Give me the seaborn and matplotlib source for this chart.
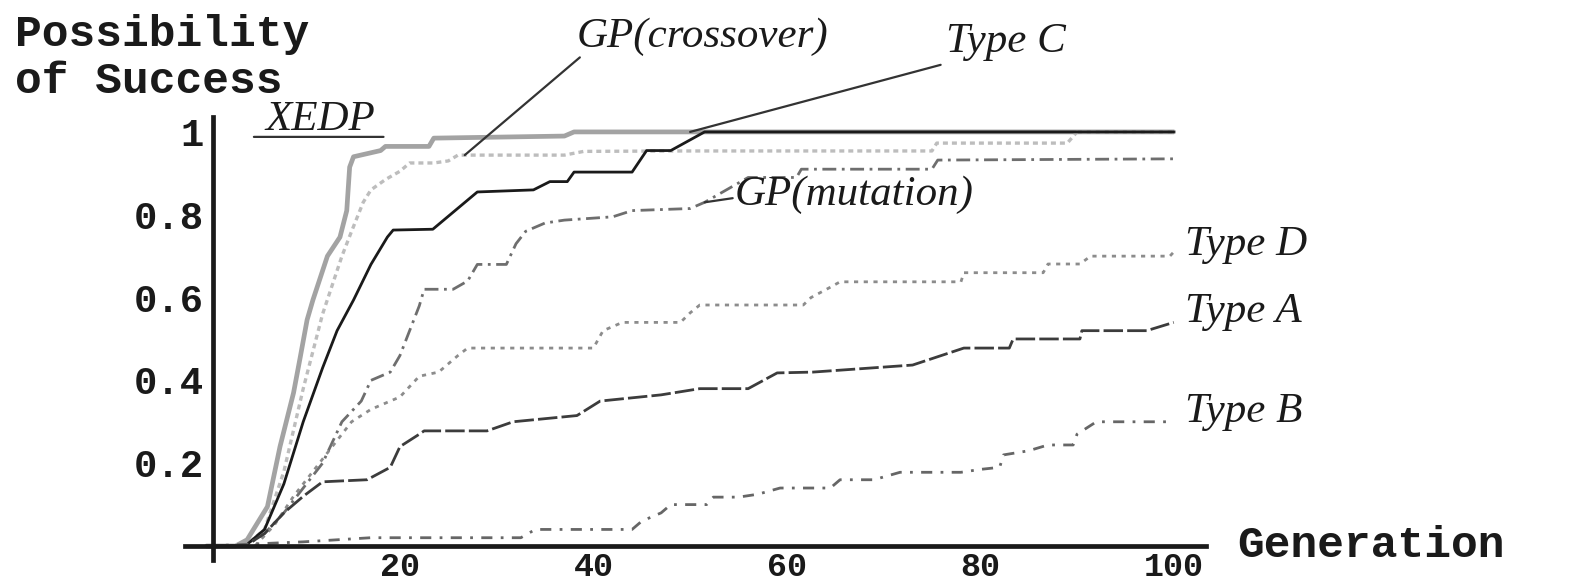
import matplotlib
matplotlib.use("Agg")
import matplotlib.pyplot as plt
import pandas as pd
import seaborn as sns

# values: generation -> possibility of success
xedp_gen = [0, 3, 4.2, 6.3, 7.6, 9, 9.7, 10.4, 11, 12.5, 13.8, 14.5, 14.8, 15.2,
            18, 18.5, 23, 23.5, 37, 38, 100]
xedp_val = [0, 0, 0.015, 0.095, 0.24, 0.37, 0.457, 0.546, 0.594, 0.70, 0.746, 0.81,
            0.915, 0.94, 0.955, 0.965, 0.965, 0.985, 0.99, 1.0, 1.0]

cross_gen = [0, 4, 6, 8, 10, 12, 14, 15, 16.2, 17, 18.5, 20, 21, 23.5, 25, 26, 37,
             39, 49, 75, 75.5, 89, 90, 100]
cross_val = [0, 0, 0.04, 0.18, 0.38, 0.56, 0.70, 0.76, 0.83, 0.86, 0.885, 0.905,
             0.925, 0.925, 0.93, 0.944, 0.944, 0.953, 0.954, 0.954, 0.973, 0.973,
             1.0, 1.0]

typec_gen = [0, 4, 6, 8, 10, 12, 13.5, 15.2, 17, 18.7, 19.3, 23.4, 28, 33.8, 35.5,
             37.3, 38, 44, 45.5, 48, 51.5, 100]
typec_val = [0, 0, 0.04, 0.15, 0.3, 0.43, 0.52, 0.594, 0.68, 0.746, 0.763, 0.765,
             0.855, 0.86, 0.88, 0.88, 0.903, 0.903, 0.955, 0.955, 1.0, 1.0]

mut_gen = [0, 4, 6, 8, 10, 12, 14, 16, 17, 19, 20, 21, 22, 22.5, 25.5, 27, 28, 31,
           32, 33, 35, 37, 42, 44, 50, 51.5, 56, 61, 61.5, 75, 75.6, 100]
mut_val = [0, 0, 0.03, 0.08, 0.14, 0.2, 0.3, 0.35, 0.4, 0.42, 0.46, 0.52, 0.58,
           0.62, 0.62, 0.64, 0.68, 0.68, 0.73, 0.76, 0.78, 0.787, 0.795, 0.81,
           0.815, 0.83, 0.89, 0.89, 0.91, 0.91, 0.932, 0.935]

typed_gen = [0, 5, 7, 9, 11, 13, 15, 17, 20, 22, 24, 26, 27, 40, 41, 43, 49, 50,
             51, 61.7, 62.5, 64.5, 65.5, 78, 78.3, 86.5, 87, 90.3, 91.4, 99.6, 100]
typed_val = [0, 0, 0.05, 0.12, 0.18, 0.24, 0.3, 0.33, 0.36, 0.41, 0.42, 0.46, 0.478,
             0.478, 0.52, 0.54, 0.54, 0.563, 0.582, 0.582, 0.6, 0.625, 0.638, 0.638,
             0.66, 0.66, 0.681, 0.681, 0.7, 0.7, 0.71]

typea_gen = [0, 4, 6, 8, 10, 12, 16.6, 19, 20, 22, 22.5, 29, 31.7, 38.3, 40.7, 47,
             51, 56, 59, 62.7, 73, 78.3, 83, 83.4, 90.3, 90.5, 97.2, 100]
typea_val = [0, 0, 0.03, 0.08, 0.12, 0.155, 0.16, 0.19, 0.24, 0.27, 0.278, 0.278,
             0.30, 0.315, 0.35, 0.365, 0.38, 0.38, 0.418, 0.42, 0.437, 0.478, 0.478,
             0.5, 0.5, 0.52, 0.52, 0.54]

typeb_gen = [0, 10, 17, 32.5, 34, 44, 45, 47, 48, 51.7, 52.4, 55, 57, 59.3, 64.5,
             65.5, 69, 71.7, 78, 80, 82, 82.4, 85, 87, 89.6, 90, 92, 100]
typeb_val = [0, 0.01, 0.02, 0.02, 0.04, 0.04, 0.06, 0.08, 0.1, 0.1, 0.118, 0.118,
             0.125, 0.14, 0.14, 0.16, 0.16, 0.178, 0.178, 0.185, 0.19, 0.22, 0.23,
             0.244, 0.244, 0.27, 0.3, 0.3]

series = {
    "XEDP": (xedp_gen, xedp_val),
    "GP(crossover)": (cross_gen, cross_val),
    "Type C": (typec_gen, typec_val),
    "GP(mutation)": (mut_gen, mut_val),
    "Type D": (typed_gen, typed_val),
    "Type A": (typea_gen, typea_val),
    "Type B": (typeb_gen, typeb_val),
}

# colour, width, dash pattern
styles = {
    "XEDP": ("#a3a3a3", 3.4, "-"),
    "GP(crossover)": ("#bdbdbd", 2.4, (0, (1.5, 1.2))),
    "Type C": ("#1a1a1a", 2.0, "-"),
    "GP(mutation)": ("#6e6e6e", 2.0, (0, (5, 2, 1, 2))),
    "Type D": ("#8c8c8c", 2.0, (0, (1.5, 2))),
    "Type A": ("#3c3c3c", 2.0, (0, (7, 1.5))),
    "Type B": ("#666666", 2.0, (0, (4, 3, 1, 3))),
}

rows = []
for name, (gen, val) in series.items():
    for g, v in zip(gen, val):
        rows.append({"series": name, "Generation": g, "Success": v})
df = pd.DataFrame(rows)

sns.set_theme(style="white")
plt.rcParams["font.family"] = ["Liberation Mono", "DejaVu Sans Mono"]

fig = plt.figure(figsize=(15.75, 5.81), dpi=100)
ax = fig.add_axes([0.1176, 0.0353, 0.6479, 0.7633])

for name in series:
    color, lw, ls = styles[name]
    sub = df[df["series"] == name]
    sns.lineplot(data=sub, x="Generation", y="Success", ax=ax, color=color,
                 linewidth=lw, linestyle=ls, estimator=None, sort=False)

ax.set_xlim(-2.2, 103.3)
ax.set_ylim(-0.035, 1.036)
ax.set_xlabel("")
ax.set_ylabel("")

# Mathematica-like crossing axes
for side in ["top", "right"]:
    ax.spines[side].set_visible(False)
ax.spines["left"].set_position(("data", 0.7))
ax.spines["bottom"].set_position(("data", 0))
for side in ["left", "bottom"]:
    ax.spines[side].set_linewidth(3.4)
    ax.spines[side].set_color("#1a1a1a")

ax.set_xticks([20, 40, 60, 80, 100])
ax.set_xticklabels(["20", "40", "60", "80", "100"])
ax.set_yticks([0.2, 0.4, 0.6, 0.8, 1.0])
ax.set_yticklabels(["0.2", "0.4", "0.6", "0.8", "1"])
ax.tick_params(direction="in", length=6, width=2.4, color="#1a1a1a",
               labelsize=28, labelcolor="#1a1a1a")
ax.tick_params(axis="y", pad=7)
ax.tick_params(axis="x", pad=4, labelsize=24)
for lab in ax.get_xticklabels() + ax.get_yticklabels():
    lab.set_fontweight("bold")

fig.text(15 / 1575, 1 - 14 / 581, "Possibility\nof Success", ha="left", va="top",
         fontsize=32, fontweight="bold", color="#1a1a1a", linespacing=1.2)
ax.text(106.6, 0, "Generation", ha="left", va="center", fontsize=32,
        fontweight="bold", color="#1a1a1a")

lab_font = dict(family="Liberation Serif", style="italic", fontsize=31,
                color="#1a1a1a")

# curve labels with their leader lines
ax.text(6.05, 1.029, "XEDP", ha="left", va="center", **lab_font)
ax.text(51.3, 1.23, "GP(crossover)", ha="center", va="center", **lab_font)
ax.text(82.6, 1.217, "Type C", ha="center", va="center", **lab_font)
ax.text(54.6, 0.848, "GP(mutation)", ha="left", va="center", **lab_font)
ax.text(101.2, 0.727, "Type D", ha="left", va="center", **lab_font)
ax.text(101.2, 0.565, "Type A", ha="left", va="center", **lab_font)
ax.text(101.2, 0.324, "Type B", ha="left", va="center", **lab_font)

leaders = [((4.9, 0.988), (18.3, 0.988)),
           ((38.6, 1.18), (26.7, 0.944)),
           ((75.9, 1.162), (50.0, 1.0)),
           ((54.4, 0.84), (51.5, 0.83))]
for start, end in leaders:
    ax.annotate("", xy=end, xytext=start, annotation_clip=False,
                arrowprops=dict(arrowstyle="-", color="#333333", lw=1.6,
                                shrinkA=0, shrinkB=0))

fig.savefig("out.png", dpi=100)
